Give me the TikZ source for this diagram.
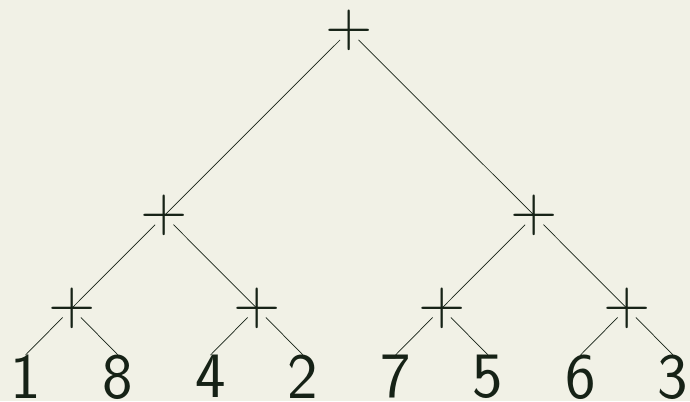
\documentclass[tikz,border=0pt]{standalone}
\definecolor{bgc}{RGB}{241,241,230}
\definecolor{ink}{RGB}{22,34,22}
\tikzset{
  op/.style={inner sep=0pt, outer sep=0pt, anchor=center, text=ink, font=\sffamily\fontsize{65}{78}\selectfont},
  leaf/.style={inner sep=0pt, outer sep=0pt, anchor=north, text=ink, font=\sffamily\fontsize{65}{78}\selectfont},
  edge/.style={draw=ink, line width=0.7bp, shorten <=13bp},
}
\begin{document}
\begin{tikzpicture}[x=1bp,y=-1bp]
\fill[bgc] (0,0) rectangle (690,401);
\useasboundingbox (0,0) rectangle (690,401);
% operators
\node[op] (r) at (349.3,30.7) {+};
\node[op] (a) at (164.3,215.5) {+};
\node[op] (b) at (534.3,215.5) {+};
\node[op] (a1) at (71.8,308.2) {+};
\node[op] (a2) at (256.8,308.2) {+};
\node[op] (b1) at (441.8,308.2) {+};
\node[op] (b2) at (626.8,308.2) {+};
% leaves
\node[leaf] (l1) at (25.5,355) {1};
\node[leaf] (l2) at (118,355) {8};
\node[leaf] (l3) at (210.5,355) {4};
\node[leaf] (l4) at (303,355) {2};
\node[leaf] (l5) at (395.5,355) {7};
\node[leaf] (l6) at (488,355) {5};
\node[leaf] (l7) at (580.5,355) {6};
\node[leaf] (l8) at (673,355) {3};
% edges
\draw[edge] (r.center) -- (a.center);
\draw[edge] (r.center) -- (b.center);
\draw[edge] (a.center) -- (a1.center);
\draw[edge] (a.center) -- (a2.center);
\draw[edge] (b.center) -- (b1.center);
\draw[edge] (b.center) -- (b2.center);
\draw[edge] (a1.center) -- (l1.north);
\draw[edge] (a1.center) -- (l2.north);
\draw[edge] (a2.center) -- (l3.north);
\draw[edge] (a2.center) -- (l4.north);
\draw[edge] (b1.center) -- (l5.north);
\draw[edge] (b1.center) -- (l6.north);
\draw[edge] (b2.center) -- (l7.north);
\draw[edge] (b2.center) -- (l8.north);
\end{tikzpicture}
\end{document}
